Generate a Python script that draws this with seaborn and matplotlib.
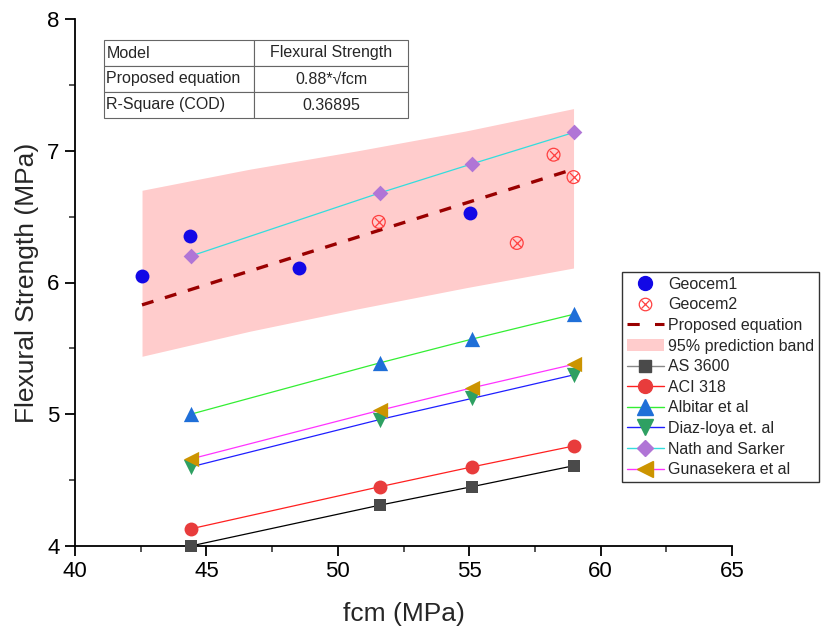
import matplotlib
matplotlib.use("Agg")
import matplotlib.pyplot as plt
import seaborn as sns
import numpy as np
import pandas as pd
from matplotlib.lines import Line2D
from matplotlib.patches import Patch

# ---------------- data ----------------
geocem1_x = [42.55, 44.36, 48.52, 55.03]
geocem1_y = [6.05, 6.35, 6.11, 6.53]

geocem2_x = [51.56, 56.81, 58.21, 58.97]
geocem2_y = [6.46, 6.30, 6.97, 6.80]

prop_x = [42.55, 58.97]
prop_y = [5.83, 6.86]

band_x = [42.55, 46.65, 50.76, 54.87, 58.97]
band_upper = [6.70, 6.86, 7.00, 7.15, 7.32]
band_lower = [5.44, 5.63, 5.80, 5.96, 6.11]

fcm = [44.4, 51.6, 55.1, 59.0]
as3600 = [4.00, 4.31, 4.45, 4.61]
aci318 = [4.13, 4.45, 4.60, 4.76]
albitar = [5.00, 5.39, 5.57, 5.76]
diazloya = [4.60, 4.96, 5.12, 5.30]
nath = [6.20, 6.68, 6.90, 7.14]
gunasekera = [4.66, 5.03, 5.20, 5.38]

table_rows = [["Model", "Flexural Strength"],
              ["Proposed equation", "0.88*\u221afcm"],
              ["R-Square (COD)", "0.36895"]]

# ---------------- style ----------------
sns.set_style("ticks")
plt.rcParams['font.family'] = ['Liberation Sans', 'DejaVu Sans']

W, H = 821, 633
L, R, T, B = 75, 732, 19, 546
fig = plt.figure(figsize=(W/100, H/100), dpi=100)
ax = fig.add_axes([L/W, 1-B/H, (R-L)/W, (B-T)/H])

# prediction band
ax.fill_between(band_x, band_lower, band_upper, color="#ffcccc", lw=0, zorder=1)

series = [
    ("AS 3600", as3600, "#000000", "s", "#4a4a4a", 9),
    ("ACI 318", aci318, "#ff2020", "o", "#e83c3c", 10),
    ("Albitar et al", albitar, "#33ee33", "^", "#1f6fd8", 11),
    ("Diaz-loya et. al", diazloya, "#1f1fff", "v", "#2ea062", 11),
    ("Nath and Sarker", nath, "#33dddd", "D", "#b075d6", 8),
    ("Gunasekera et al", gunasekera, "#ff33ff", "<", "#cc9400", 11),
]

for name, vals, lc, mk, mc, ms in series:
    df = pd.DataFrame({"x": fcm, "y": vals})
    sns.lineplot(data=df, x="x", y="y", color=lc, lw=0.9, ax=ax, zorder=3)
    sns.scatterplot(data=df, x="x", y="y", marker=mk, color=mc, s=ms**2,
                    edgecolor=mc, linewidth=0, ax=ax, zorder=4, clip_on=False)

# proposed equation
sns.lineplot(x=prop_x, y=prop_y, color="#990000", lw=2.4, ax=ax, zorder=5)
ax.lines[-1].set_dashes([3.6, 3.6])

# Geocem1
sns.scatterplot(x=geocem1_x, y=geocem1_y, color="#1208e6", s=100, linewidth=0,
                ax=ax, zorder=6)
# Geocem2
sns.scatterplot(x=geocem2_x, y=geocem2_y, marker="o", facecolor="none",
                edgecolor="#ff4040", s=85, linewidth=0.9, ax=ax, zorder=6)
sns.scatterplot(x=geocem2_x, y=geocem2_y, marker="x", color="#ff4040",
                s=42, linewidth=0.9, ax=ax, zorder=6)

ax.set_xlim(40, 65)
ax.set_ylim(4, 8)
ax.set_xticks([40, 45, 50, 55, 60, 65])
ax.set_yticks([4, 5, 6, 7, 8])
ax.set_xticks(np.arange(42.5, 65, 5), minor=True)
ax.set_yticks(np.arange(4.5, 8, 1), minor=True)
ax.tick_params(axis="both", which="major", direction="out", length=7, width=1.3,
               labelsize=16, colors="black", pad=4)
ax.tick_params(axis="both", which="minor", direction="out", length=4, width=1.1)
for s in ["top", "right"]:
    ax.spines[s].set_visible(False)
for s in ["left", "bottom"]:
    ax.spines[s].set_linewidth(1.3)
    ax.spines[s].set_color("black")
ax.set_xlabel("fcm (MPa)", fontsize=19, labelpad=14)
ax.set_ylabel("Flexural Strength (MPa)", fontsize=19, labelpad=6)

# legend
handles = [
    Line2D([], [], ls="none", marker="o", color="#1208e6", ms=10),
    (Line2D([], [], ls="none", marker="o", mfc="none", mec="#ff4040", ms=9, mew=0.9),
     Line2D([], [], ls="none", marker="x", color="#ff4040", ms=6, mew=0.9)),
    Line2D([], [], color="#990000", lw=2.2, dashes=[4, 5]),
    Patch(facecolor="#ffcccc", edgecolor="none"),
]
labels = ["Geocem1", "Geocem2", "Proposed equation", "95% prediction band"]
for name, vals, lc, mk, mc, ms in series:
    lcol = "#888888" if name == "AS 3600" else lc
    handles.append(Line2D([], [], color=lcol, lw=1, marker=mk, mfc=mc, mec=mc, ms=ms))
    labels.append(name)

leg = fig.legend(handles, labels, loc="upper left",
                 bbox_to_anchor=(622/W, 1-272/H), fontsize=11.5,
                 frameon=True, fancybox=False, edgecolor="black",
                 borderpad=0.3, labelspacing=0.35, handlelength=2.3,
                 handletextpad=0.3, borderaxespad=0)
leg.get_frame().set_linewidth(1.0)

# table
tbl = ax.table(cellText=table_rows, cellLoc="left",
               bbox=[(104-L)/(R-L), (B-118)/(B-T), 304/(R-L), 78/(B-T)],
               colWidths=[150, 154])
tbl.auto_set_font_size(False)
tbl.set_fontsize(11.5)
for (r, c), cell in tbl.get_celld().items():
    cell.set_edgecolor("#666666")
    cell.set_linewidth(0.8)
    if c == 1:
        cell.get_text().set_horizontalalignment("center")
        cell._loc = "center"
    else:
        cell.PAD = 0.015
tbl.set_zorder(10)

fig.savefig("out.png", dpi=100)
